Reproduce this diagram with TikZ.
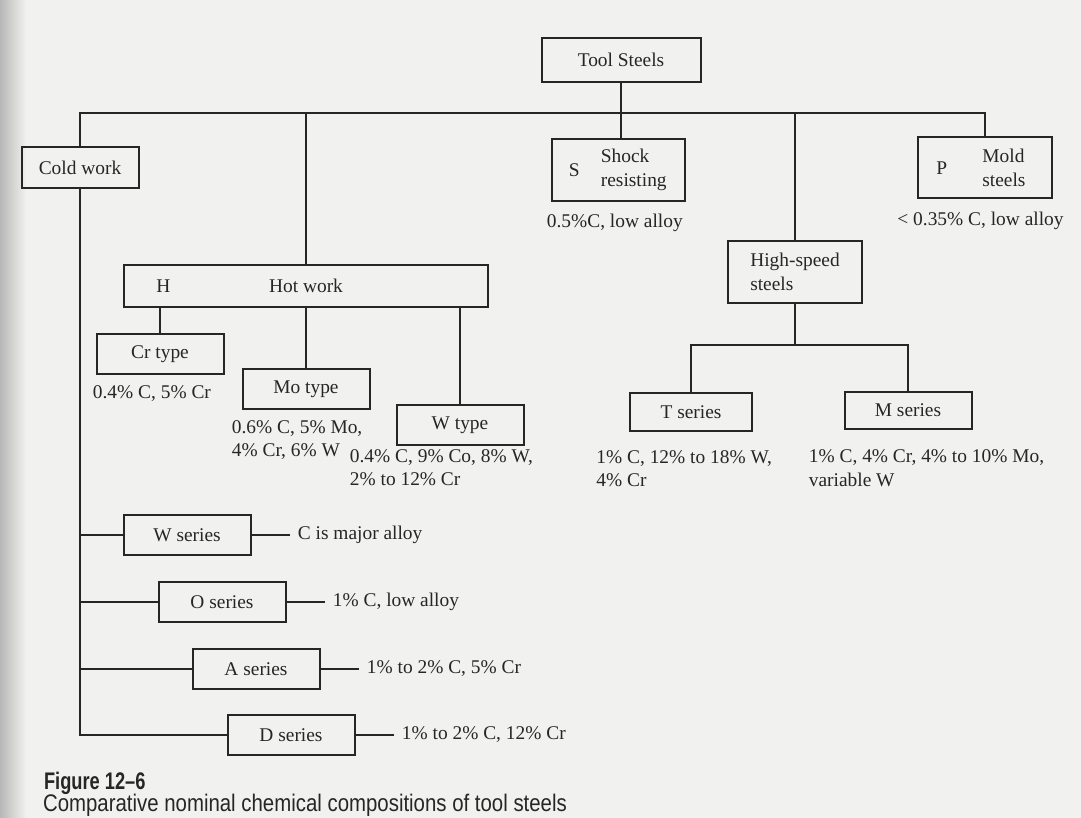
\documentclass[tikz,border=0pt]{standalone}
\usepackage{fontspec}
\setmainfont{Liberation Serif}
\newfontfamily\capfont{Liberation Sans}
\usetikzlibrary{positioning,calc}

\definecolor{paper}{RGB}{241,241,239}
\definecolor{ink}{RGB}{38,38,38}

\begin{document}
\begin{tikzpicture}[x=0.5pt, y=-0.5pt,
  every node/.style={font=\fontsize{9.7}{11.8}\selectfont, text=ink},
  box/.style={draw=ink, line width=1pt, rectangle, inner sep=0pt, minimum width=63.5pt, minimum height=20pt},
  tag/.style={rectangle, inner sep=0pt, align=left},
  link/.style={draw=ink, line width=1pt}]

\fill[paper] (0,0) rectangle (1081,818);
\shade[left color=black!28, right color=paper] (0,0) rectangle (26,818);
\useasboundingbox (0,0) rectangle (1081,818);

% top of the tree
\node[box, minimum width=79.5pt, minimum height=22pt] (tool_steels) at (621,60) {Tool Steels};
\coordinate (split) at (621,113);

\node[box, minimum width=58.5pt, minimum height=20.5pt] (cold_work) at (80,168) {Cold work};
\node[box, minimum width=182pt, minimum height=21pt] (hot_work) at (306,286) {Hot work};
\node[tag, right = 16.5pt of hot_work.west] (hot_letter) {H};

\node[box, minimum width=66.5pt, minimum height=31pt] (shock) at (618,170) {};
\node[tag, right = 9pt of shock.west] (shock_letter) {S};
\node[tag, right = 25pt of shock.west] (shock_text) {Shock\\resisting};
\node[tag, below right = 6pt and -2pt of shock.south west] (shock_note) {0.5\%C, low alloy};

\node[box, minimum width=67pt, minimum height=30.5pt] (mold) at (985,168) {};
\node[tag, right = 9.5pt of mold.west] (mold_letter) {P};
\node[tag, right = 32.5pt of mold.west] (mold_text) {Mold\\steels};
\node[tag, below right = 6pt and -10pt of mold.south west] (mold_note) {< 0.35\% C, low alloy};

\node[box, minimum width=67pt, minimum height=30.5pt, align=left] (high_speed) at (795,272) {High-speed\\steels};

\draw[link] (tool_steels.south) -- (tool_steels.south |- shock.north);
\draw[link] (cold_work.north) |- (split) -| (mold.north);
\draw[link] (hot_work.north) -- (hot_work.north |- split);
\draw[link] (high_speed.north) -- (high_speed.north |- split);

% hot work types
\node[box] (cr_type) at (160,354) {Cr type};
\node[box] (mo_type) at (306,389) {Mo type};
\node[box] (w_type) at (460,425) {W type};
\foreach \nm in {cr_type, mo_type, w_type}
  \draw[link] (\nm.north) -- (\nm.north |- hot_work.south);

\node[tag, below right = 5pt and -1.5pt of cr_type.south west] (cr_note) {0.4\% C, 5\% Cr};
\node[tag, below right = 5pt and -5pt of mo_type.south west] (mo_note) {0.6\% C, 5\% Mo,\\4\% Cr, 6\% W};
\node[tag, below right = 1.5pt and -23pt of w_type.south west] (w_note) {0.4\% C, 9\% Co, 8\% W,\\2\% to 12\% Cr};

% high-speed series
\coordinate (hs_split) at (795,345);
\node[box, minimum width=61pt, minimum height=19pt] (t_series) at (691,412) {T series};
\node[box, minimum height=18.5pt] (m_series) at (908,410) {M series};
\draw[link] (high_speed.south) -- (hs_split);
\draw[link] (t_series.north) |- (hs_split) -| (m_series.north);

\node[tag, below right = 9pt and -16.5pt of t_series.south west] (t_note) {1\% C, 12\% to 18\% W,\\4\% Cr};
\node[tag, below right = 10pt and -17.5pt of m_series.south west] (m_note) {1\% C, 4\% Cr, 4\% to 10\% Mo,\\variable W};

% cold work series
\node[box] (w_series) at (187,535) {W series};
\node[box] (o_series) at (222,602) {O series};
\node[box] (a_series) at (256,669) {A series};
\node[box] (d_series) at (291,735) {D series};
\draw[link] (cold_work.south) |- (d_series.west);
\foreach \nm in {w_series, o_series, a_series}
  \draw[link] (\nm.west) -- (\nm.west -| cold_work.south);

\node[tag, right = 23pt of w_series] (w_series_note) {C is major alloy};
\node[tag, right = 23pt of o_series] (o_series_note) {1\% C, low alloy};
\node[tag, right = 23pt of a_series] (a_series_note) {1\% to 2\% C, 5\% Cr};
\node[tag, right = 23pt of d_series] (d_series_note) {1\% to 2\% C, 12\% Cr};
\foreach \nm in {w_series, o_series, a_series, d_series}
  \draw[link] (\nm.east) -- ([xshift=-4pt]\nm_note.west);

% caption
\node[anchor=base west, font=\capfont\bfseries\fontsize{12}{14}\selectfont] (fig_label) at (37,789) {\scalebox{0.76}[1]{Figure 12–6}};
\node[anchor=base west, font=\capfont\fontsize{12}{14}\selectfont] (fig_caption) at (36,811) {\scalebox{0.85}[1]{Comparative nominal chemical compositions of tool steels}};
\end{tikzpicture}
\end{document}
